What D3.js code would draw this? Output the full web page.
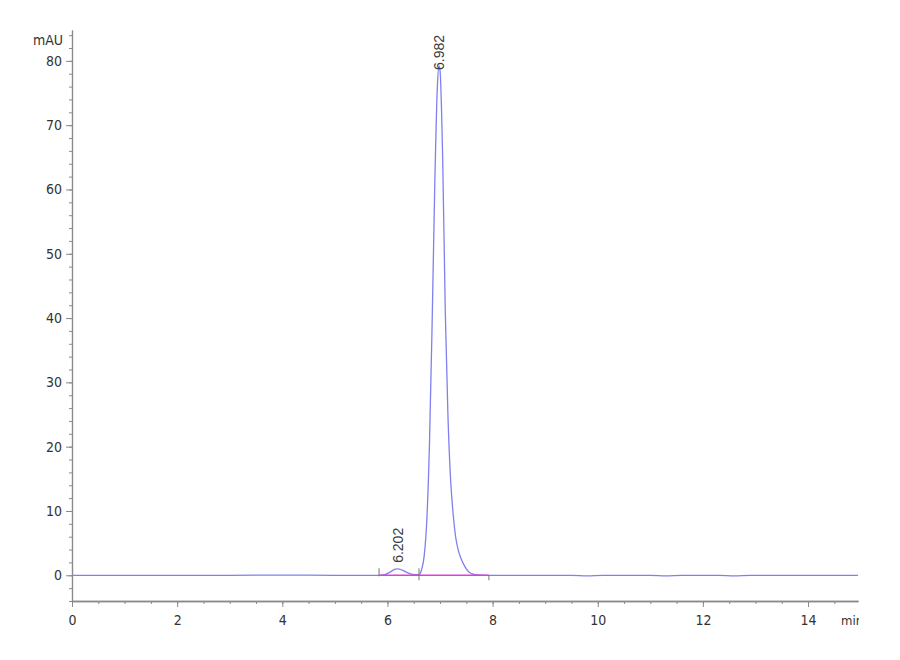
<!DOCTYPE html>
<html>
<head>
<meta charset="utf-8">
<script src="https://cdn.jsdelivr.net/npm/d3@7/dist/d3.min.js"></script>
<style>
  body { margin: 0; background: #fff; }
  svg { display: block; }
  .lbl { font-family: "Liberation Sans Narrow", "DejaVu Sans Condensed", "Arial Narrow", sans-serif; font-size: 14px; fill: #333; }
</style>
</head>
<body>
<div id="chart"></div>
<script>
// chromatogram trace: time (min) and absorbance (mAU)
var times = [0, 1, 2, 3, 4, 5, 5.5, 5.84, 5.95, 6.05, 6.15, 6.2, 6.28, 6.38, 6.48, 6.6,
  6.65, 6.7, 6.75, 6.8, 6.85, 6.9, 6.95, 6.98, 7.0, 7.05, 7.1, 7.15, 7.2, 7.25, 7.3,
  7.35, 7.4, 7.45, 7.5, 7.55, 7.6, 7.7, 7.9, 8.5, 9.5, 9.8, 10.1, 11, 11.3, 11.6, 12.3,
  12.6, 12.9, 14, 14.95];
var signal = [0, 0, 0, 0, 0.02, 0, 0, 0, 0.1, 0.5, 0.95, 1.0, 0.8, 0.4, 0.15, 0.1,
  0.9, 3.1, 8.8, 20.7, 39.3, 60.7, 76.1, 79.2, 78.5, 65, 41, 25, 15, 9.5, 5.8,
  3.8, 2.6, 1.7, 1.0, 0.5, 0.25, 0.05, 0, 0, 0, -0.1, 0, 0, -0.08, 0, 0,
  -0.08, 0, 0, 0];

// integrated peaks: retention time, apex height, integration limits
var peakTimes = [6.202, 6.982];
var peakHeights = [1.0, 79.2];
var peakLabels = ["6.202", "6.982"];
var markTimes = [5.84, 6.6, 7.93];

var xMajor = [0, 2, 4, 6, 8, 10, 12, 14];
var yMajor = [0, 10, 20, 30, 40, 50, 60, 70, 80];

var width = 900, height = 660;

var x = d3.scaleLinear().domain([0, 14.95]).range([72, 858]);
var y = d3.scaleLinear().domain([-4, 84.8]).range([601, 30]);

var svg = d3.select('#chart').append('svg')
  .attr('width', width)
  .attr('height', height);

var axisColor = '#8a8a8a';

function styleAxis(g, w) {
  g.selectAll('.domain').attr('stroke', axisColor).attr('stroke-width', w);
  g.selectAll('.tick line').attr('stroke', axisColor);
  g.selectAll('.tick text').attr('class', 'lbl').attr('font-size', null).attr('font-family', null);
}

// x axis: minor ticks every 0.5 min
var xMinor = d3.range(0, 15, 0.5);
var xAxisMinor = d3.axisBottom(x).tickValues(xMinor).tickSize(3).tickSizeOuter(0).tickFormat('');
var xAxis = d3.axisBottom(x).tickValues(xMajor).tickSize(6).tickSizeOuter(0).tickPadding(8).tickFormat(d3.format('d'));

styleAxis(svg.append('g').attr('transform', 'translate(0,' + y(-4) + ')').call(xAxisMinor), 1.6);
styleAxis(svg.append('g').attr('transform', 'translate(0,' + y(-4) + ')').call(xAxis), 1.6);

// y axis: minor ticks every 2 mAU
var yMinor = d3.range(-4, 85, 2);
var yAxisMinor = d3.axisLeft(y).tickValues(yMinor).tickSize(3).tickSizeOuter(0).tickFormat('');
var yAxis = d3.axisLeft(y).tickValues(yMajor).tickSize(6).tickSizeOuter(0).tickPadding(4).tickFormat(d3.format('d'));

styleAxis(svg.append('g').attr('transform', 'translate(' + x(0) + ',0)').call(yAxisMinor), 1.2);
styleAxis(svg.append('g').attr('transform', 'translate(' + x(0) + ',0)').call(yAxis), 1.2);

// unit labels
svg.append('text').attr('class', 'lbl')
  .attr('x', 63).attr('y', 45)
  .attr('text-anchor', 'end')
  .text('mAU');

// the time unit is cut at the right edge of the plot, as in the original
svg.append('clipPath').attr('id', 'edge')
  .append('rect').attr('x', 0).attr('y', 0).attr('width', 859).attr('height', height);
svg.append('text').attr('class', 'lbl')
  .attr('clip-path', 'url(#edge)')
  .attr('x', 841).attr('y', 625)
  .style('font-size', '13px')
  .text('min');

// signal trace
var line = d3.line()
  .x(function(d, i) { return x(times[i]); })
  .y(function(d) { return y(d); })
  .curve(d3.curveMonotoneX);

svg.append('path')
  .datum(signal)
  .attr('d', line)
  .attr('fill', 'none')
  .attr('stroke', '#7f80ee')
  .attr('stroke-width', 1.3);

// baseline of integration, drawn over the trace
svg.append('line')
  .attr('x1', x(markTimes[0])).attr('x2', x(markTimes[2]))
  .attr('y1', y(0)).attr('y2', y(0))
  .attr('stroke', '#e43cdc').attr('stroke-width', 1.4);

// integration limit marks
svg.selectAll('.mark')
  .data(markTimes)
  .enter()
  .append('line')
  .attr('class', 'mark')
  .attr('x1', function(d) { return x(d); })
  .attr('x2', function(d) { return x(d); })
  .attr('y1', function(d, i) { return i === 2 ? y(0) : y(0) - 7; })
  .attr('y2', function(d, i) { return i === 0 ? y(0) + 1 : y(0) + 5; })
  .attr('stroke', '#777')
  .attr('stroke-width', 1);

// peak retention time labels, rotated
svg.selectAll('.plabel')
  .data(peakTimes)
  .enter()
  .append('text')
  .attr('transform', function(d, i) {
    return 'translate(' + (x(d) + 5) + ',' + (y(peakHeights[i]) - 6 + (i === 1 ? 10 : 0)) + ') rotate(-90)';
  })
  .style('font-family', '"Liberation Sans", Arial, sans-serif')
  .style('font-size', '14px')
  .style('fill', '#3a3a3a')
  .text(function(d, i) { return peakLabels[i]; });
</script>
</body>
</html>
